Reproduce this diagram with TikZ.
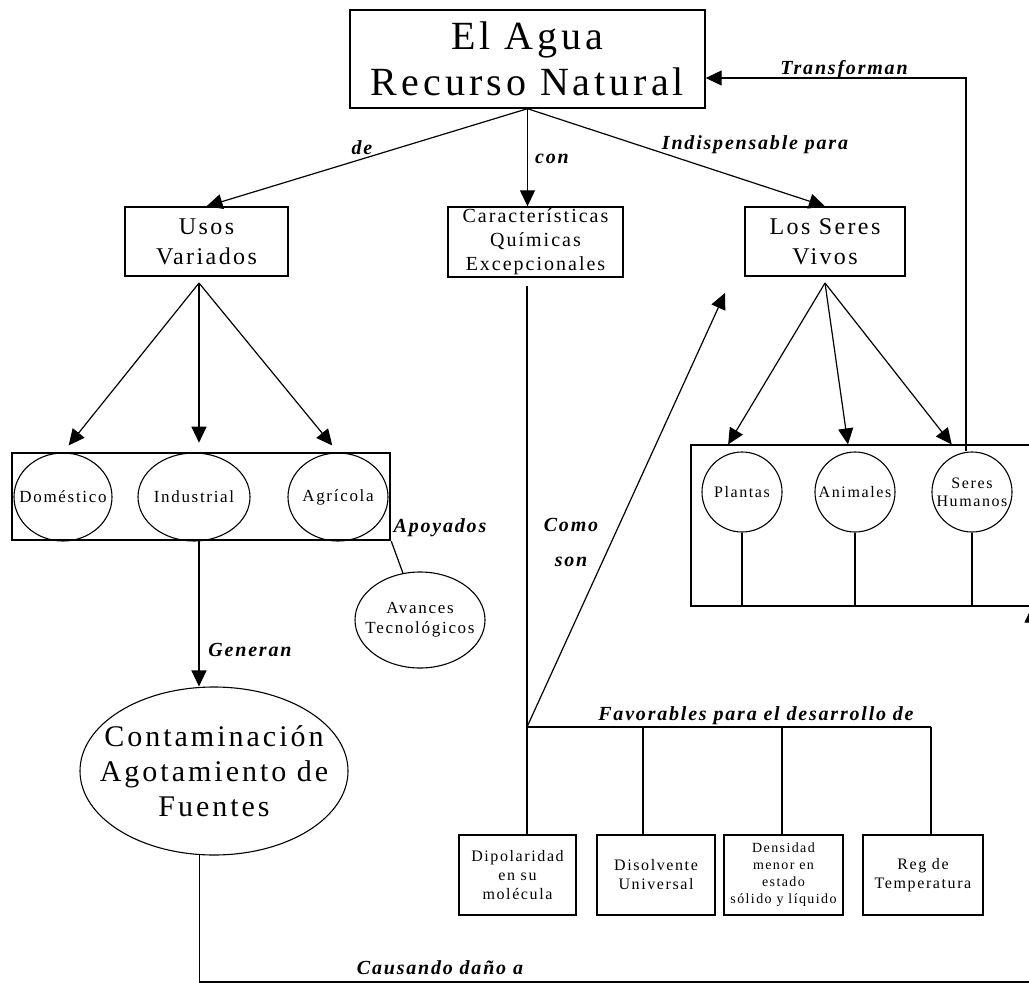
\documentclass[tikz,border=0pt]{standalone}
\usepackage{fontspec}
\setmainfont{Liberation Serif}[LetterSpace=10]
\newfontfamily\lblfont{Liberation Serif}[LetterSpace=9]
\usepackage{tikz}
\usetikzlibrary{positioning,shapes.geometric,arrows.meta}

\newcommand{\midtxt}[1]{\makebox[0pt]{#1}}

\begin{document}
\begin{tikzpicture}[x=1pt,y=-1pt,
  box/.style={draw, line width=1.4pt, inner sep=0pt, align=center},
  oval/.style={draw, ellipse, line width=1.1pt, inner sep=0pt, align=center},
  bola/.style={draw, circle, line width=1.1pt, inner sep=0pt, minimum size=80, align=center, font=\fontsize{16}{18}\selectfont},
  lbl/.style={font=\lblfont\bfseries\itshape\fontsize{20}{22}\selectfont, inner sep=0pt},
  con/.style={line width=1.2pt},
  arr/.style={con, -{Triangle[length=16pt,width=15pt]}}]
\useasboundingbox (0,0) rectangle (1029,983);

% nivel superior
\node[box, minimum width=355, minimum height=98, font=\fontsize{40}{46}\selectfont] (agua) at (527.5,59) {El Agua\\Recurso Natural};
\node[box, minimum width=163, minimum height=69, font=\fontsize{24}{30}\selectfont] (usos) at (206.5,241.5) {Usos\\Variados};
\node[box, minimum width=175, minimum height=70, font=\fontsize{20}{24}\selectfont] (carac) at (535.5,242) {Características\\Químicas\\Excepcionales};
\node[box, minimum width=160, minimum height=69, font=\fontsize{24}{30}\selectfont] (seres) at (825,241.5) {Los Seres\\Vivos};

% usos
\node[draw, line width=2.6pt, inner sep=0pt, minimum width=378, minimum height=87] (usosbox) at (201,496.5) {};
\node[oval, minimum width=98, minimum height=88, font=\fontsize{17}{20}\selectfont] (dom) at (63,497) {\midtxt{Doméstico}};
\node[oval, minimum width=112, minimum height=88, font=\fontsize{17}{20}\selectfont] (ind) at (194,497) {\midtxt{Industrial}};
\node[oval, minimum width=100, minimum height=88, font=\fontsize{17}{20}\selectfont] (agr) at (338,497) {\midtxt{Agrícola}};
\node[oval, minimum width=130, minimum height=96, font=\fontsize{17}{20}\selectfont] (avan) at (420,620) {\midtxt{Avances}\\\midtxt{Tecnológicos}};
\node[oval, minimum width=268, minimum height=168, font=\fontsize{30}{35}\selectfont] (cont) at (214,771) {\midtxt{Contaminación}\\\midtxt{Agotamiento de}\\\midtxt{Fuentes}};

% seres vivos
\node[draw, line width=1.2pt, inner sep=0pt, minimum width=409, minimum height=161] (sub) at (895.5,525.5) {};
\node[bola] (pla) at (742,492) {\midtxt{Plantas}};
\node[bola] (ani) at (855,492) {\midtxt{Animales}};
\node[bola] (hum) at (972,492) {\midtxt{Seres}\\\midtxt{Humanos}};

% caracteristicas
\node[box, minimum width=117, minimum height=80, font=\fontsize{16}{19}\selectfont] (dip) at (517.5,875) {Dipolaridad\\en su\\molécula};
\node[box, minimum width=118, minimum height=80, font=\fontsize{16}{19}\selectfont] (dis) at (656,875) {Disolvente\\Universal};
\node[box, minimum width=119, minimum height=80, font=\fontsize{14}{17}\selectfont] (den) at (783.5,875) {Densidad\\menor en\\estado\\sólido y líquido};
\node[box, minimum width=120, minimum height=80, font=\fontsize{16}{19}\selectfont] (reg) at (923,875) {Reg de\\Temperatura};

\coordinate (uf) at (199,283);
\coordinate (sf) at (825,283);
\coordinate (tr) at (966,78);
\coordinate (cj) at (527,727);
\coordinate (f2) at (643,727);
\coordinate (f3) at (782,727);
\coordinate (f4) at (931,727);
\coordinate (cs) at (725,293);
\coordinate (dm) at (1032,982);

\draw[arr] (agua.south) -- (usos.north);
\draw[arr] (agua.south) -- (agua.south |- carac.north);
\draw[arr] (agua.south) -- (seres.north);
\draw[arr] (tr |- hum.north) -- (tr) -- (agua.east |- tr);

\draw[arr, shorten >=9pt] (uf) -- (dom.north);
\draw[arr, shorten >=9pt] (uf) -- (uf |- usosbox.north);
\draw[arr, shorten >=9pt] (uf) -- (agr.north);
\draw[arr] (uf |- usosbox.south) -- (uf |- cont.north);
\draw[con] (usosbox.south east) -- (avan.110);
\draw[arr] (cont.260) |- (dm) -- (dm |- sub.south);

\draw[arr] (sf) -- (sub.north -| pla.110);
\draw[arr] (sf) -- (sub.north -| ani.100);
\draw[arr] (sf) -- (sub.north -| hum.120);
\foreach \c in {pla,ani,hum}
  \draw[con] (\c.south) -- (\c.south |- sub.south);

\draw[con, shorten <=8pt] (cj |- carac.south) -- (cj |- dip.north);
\draw[con] (cj) -- (f4);
\foreach \f/\b in {f2/dis,f3/den,f4/reg}
  \draw[con] (\f) -- (\f |- \b.north);
\draw[arr] (cj) -- (cs);

% etiquetas
\node[lbl] (l-de) at (362,148) {de};
\node[lbl] (l-con) at (552,159) {con};
\node[lbl] (l-ind) at (755,145) {Indispensable para};
\node[lbl] (l-tra) at (844,70) {Transforman};
\node[lbl] (l-apo) at (440,528) {Apoyados};
\node[lbl] (l-gen) at (250,650) {Generan};
\node[lbl, align=center, font=\lblfont\bfseries\itshape\fontsize{20}{35}\selectfont] (l-como) at (571,542) {Como\\son};
\node[lbl] (l-fav) at (756,716) {Favorables para el desarrollo de};
\node[lbl] (l-cau) at (440,968) {Causando daño a};
\end{tikzpicture}
\end{document}
